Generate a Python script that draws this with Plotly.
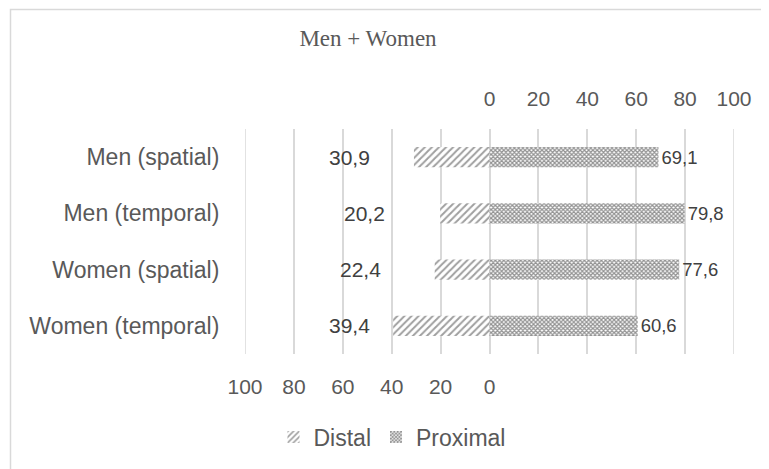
import plotly.graph_objects as go

categories = ["Men (spatial)", "Men (temporal)", "Women (spatial)", "Women (temporal)"]
distal = [30.9, 20.2, 22.4, 39.4]
proximal = [69.1, 79.8, 77.6, 60.6]
top_ticks = [0, 20, 40, 60, 80, 100]
bottom_ticks = [100, 80, 60, 40, 20, 0]

def fmt(v):
    return f"{v:.1f}".replace(".", ",")

# page body has an 8px margin; figure coords = page coords - 8
OFF = 8
W, H = 769 - OFF, 469 - OFF
L, T = 245 - OFF, 129 - OFF
pw, ph = 489, 225
R, B = W - L - pw, H - T - ph

TXT = "#595959"
LBL = "#404040"
GRID = "#d9d9d9"
FONT = "Liberation Sans"
FS = 21
FS_CAT = 23

fig = go.Figure()
fig.add_trace(go.Bar(
    y=categories, x=[-v for v in distal], orientation="h", name="Distal",
    marker=dict(color="white", line=dict(width=0),
                pattern=dict(shape="/", fgcolor="#404040", bgcolor="white", size=5, solidity=0.4)),
    width=0.36, hoverinfo="skip",
))
fig.add_trace(go.Bar(
    y=categories, x=proximal, orientation="h", name="Proximal",
    marker=dict(color="white", line=dict(width=0),
                pattern=dict(shape="x", fgcolor="#262626", bgcolor="white", size=3, solidity=0.65)),
    width=0.36, text=[fmt(v) for v in proximal], textposition="outside",
    textfont=dict(family=FONT, size=FS, color=LBL), cliponaxis=False, hoverinfo="skip",
))
# invisible trace to activate top axis
fig.add_trace(go.Scatter(x=[0, 100], y=[categories[0], categories[0]], xaxis="x2",
                         mode="markers", marker=dict(opacity=0), showlegend=False, hoverinfo="skip"))

# distal labels (placed left of bars, as in reference)
distal_label_right = [-47.9, -42.1, -43.4, -47.9]
annotations = []
for c, v, xr in zip(categories, distal, distal_label_right):
    annotations.append(dict(x=xr, y=c, xref="x", yref="y", text=fmt(v), showarrow=False,
                            xanchor="right", yanchor="middle",
                            font=dict(family=FONT, size=FS, color=LBL)))

# gridlines at the axis ends (plotly skips gridlines at range boundaries)
edge_lines = [dict(type="line", xref="x", yref="paper", x0=xv, x1=xv, y0=0, y1=1,
                   line=dict(color=GRID, width=1.5), layer="below")
              for xv in (-bottom_ticks[0], top_ticks[-1])]

fig.update_layout(
    width=W, height=H,
    margin=dict(l=L, r=R, t=T, b=B, pad=0, autoexpand=False),
    paper_bgcolor="white", plot_bgcolor="white",
    barmode="relative",
    showlegend=True,
    legend=dict(orientation="h", x=(392 - 245) / pw, y=(354 - 437) / ph,
                xanchor="center", yanchor="middle",
                font=dict(family=FONT, size=FS_CAT, color=TXT), itemwidth=30,
                traceorder="normal", bgcolor="rgba(0,0,0,0)"),
    title=dict(text="Men + Women", x=(368 - OFF) / W, xref="container", xanchor="center",
               y=1 - (38 - OFF) / H, yref="container", yanchor="middle",
               font=dict(family="Liberation Serif", size=23, color=TXT)),
    xaxis=dict(range=[-100, 100], tickvals=[-v for v in bottom_ticks],
               ticktext=[str(v) for v in bottom_ticks],
               showgrid=True, gridcolor=GRID, gridwidth=1.5,
               zeroline=False, showline=False,
               ticks="outside", ticklen=14, tickcolor="rgba(0,0,0,0)",
               tickfont=dict(family=FONT, size=FS, color=TXT), fixedrange=True),
    xaxis2=dict(range=[-100, 100], overlaying="x", side="top", tickvals=top_ticks,
                ticktext=[str(v) for v in top_ticks],
                showgrid=True, gridcolor=GRID, gridwidth=1.5, zeroline=False,
                ticks="outside", ticklen=14, tickcolor="rgba(0,0,0,0)",
                tickfont=dict(family=FONT, size=FS, color=TXT), fixedrange=True),
    yaxis=dict(categoryorder="array", categoryarray=categories, autorange="reversed",
               showgrid=False, zeroline=False, showline=False,
               ticks="outside", ticklen=20, tickcolor="rgba(0,0,0,0)",
               tickfont=dict(family=FONT, size=FS_CAT, color=TXT), fixedrange=True),
    annotations=annotations,
    shapes=[dict(type="rect", xref="paper", yref="paper",
                 x0=(10.5 - 245) / pw, x1=(769 + 20 - 245) / pw,
                 y0=(354 - (469 + 20)) / ph, y1=(354 - 9.5) / ph,
                 line=dict(color=GRID, width=1.5), fillcolor="rgba(0,0,0,0)", layer="below")]
           + edge_lines,
)

fig.write_html("out.html")
